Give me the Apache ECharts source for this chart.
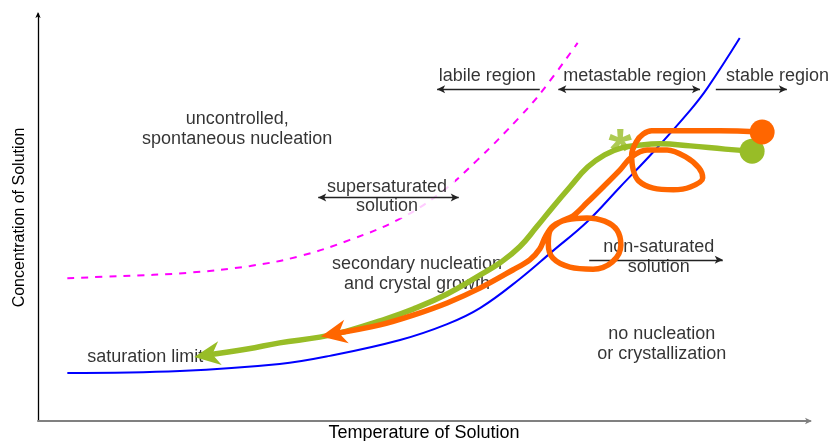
<!DOCTYPE html>
<html>
<head>
<meta charset="utf-8">
<script src="https://cdn.jsdelivr.net/npm/echarts@6/dist/echarts.min.js"></script>
<style>html,body{margin:0;padding:0;background:#fff}#c{width:832px;height:441px}</style>
</head>
<body>
<div id="c"></div>
<script>
// Schematic data (temperature 0-100, concentration 0-100)
const saturationLimit = [[3.8,11.8],[18.4,12.3],[31.3,14.0],[37.8,16.0],[46.9,19.9],[53.0,23.8],[57.3,27.8],[62.4,34.9],[66.7,41.8],[71.1,48.9],[75.4,57.5],[79.7,66.1],[84.5,76.4],[86.7,81.8],[90.9,94.1]];
const supersolubility = [[3.8,35.1],[10.6,35.6],[19.3,36.4],[27.5,38.1],[33.9,40.5],[40.4,44.5],[46.6,49.4],[52.1,56.0],[56.9,64.1],[62.4,74.7],[65.4,81.3],[69.9,92.9]];
const greenPath = [[92.5,66.3],[89.0,66.8],[84.5,67.6],[80.6,68.1],[78.0,67.8],[75.6,67.1],[73.4,65.4],[71.2,62.4],[68.9,57.5],[66.7,52.6],[64.6,47.7],[62.4,42.8],[59.8,38.8],[57.3,35.9],[53.0,31.2],[48.6,27.5],[44.3,24.6],[40.0,22.1],[36.5,20.6],[31.3,19.2],[27.1,17.7],[21.9,16.2]];
const orangePath = [[93.8,71.0],[88.3,71.3],[84.5,71.3],[81.2,71.3],[79.5,71.3],[78.4,70.5],[77.5,68.6],[76.9,65.4],[77.1,61.7],[77.8,59.0],[79.7,57.2],[82.3,56.8],[84.5,57.5],[86.1,59.7],[85.6,62.2],[83.9,64.9],[81.5,66.6],[78.9,66.6],[76.9,64.9],[75.4,61.7],[73.2,57.5],[71.1,53.6],[69.3,50.4],[67.6,48.9],[66.3,46.7],[66.1,43.5],[66.7,40.0],[68.9,37.8],[71.9,37.3],[74.4,39.1],[75.5,43.2],[75.0,46.9],[73.4,49.1],[71.1,49.9],[68.5,49.4],[66.7,47.9],[65.7,45.2],[65.0,42.3],[63.7,39.6],[61.5,37.1],[57.3,32.7],[53.0,29.0],[48.6,26.0],[44.3,23.6],[38.3,21.4]];
const starPoint = [75.4,65.7];
const regionLabels = ['uncontrolled,\nspontaneous nucleation','labile region','metastable region','stable region','supersaturated\nsolution','secondary nucleation\nand crystal growth','non-saturated\nsolution','no nucleation\nor crystallization','saturation limit'];
const labelPoints = [[25.8,71.7],[58.2,84.8],[77.3,84.8],[95.8,84.8],[45.2,55.2],[49.1,36.2],[80.4,40.2],[80.8,19.0],[13.9,15.7]];
const arrowSpans = [[51.7,65.0,81.5],[67.4,85.75,81.5],[87.8,97.0,81.5],[36.3,54.5,54.9],[71.4,88.7,39.6]];
const arrowHeads = [['arrow','none'],['arrow','arrow'],['none','arrow'],['arrow','arrow'],['none','arrow']];

const FONT = "'Liberation Sans', Arial, sans-serif";
const GREEN = '#98bd27', ORANGE = '#ff6600';
const headPath = 'path://M12,0 L24,27 L12,19 L0,27 Z';

function pathData(path, color, rot) {
  const last = path.length - 1;
  return path.map((p, i) => {
    if (i === 0) return {value: p, symbol: 'circle', symbolSize: 25, itemStyle: {color}};
    if (i === last) return {value: p, symbol: headPath, symbolSize: [24, 26], symbolRotate: rot, itemStyle: {color}};
    return {value: p, symbol: 'none'};
  });
}

const chart = echarts.init(document.getElementById('c'), null, {renderer: 'canvas'});
const labelStyle = {show: true, position: 'inside', formatter: '{b}', fontSize: 18, fontFamily: FONT, color: '#000', textBorderWidth: 0, lineHeight: 20, align: 'center', verticalAlign: 'middle'};

chart.setOption({
  animation: false,
  grid: {left: 38, right: 22, top: 14, bottom: 20, containLabel: false, outerBoundsMode: 'none'},
  xAxis: {
    type: 'value', min: 0, max: 100,
    name: 'Temperature of Solution', nameLocation: 'middle', nameGap: 3,
    nameTextStyle: {fontSize: 18, fontFamily: FONT, color: '#000'},
    axisLine: {show: true, onZero: false, symbol: ['none', 'arrow'], symbolSize: [5, 7], symbolOffset: [0, 2], lineStyle: {color: '#808080', width: 2}},
    axisTick: {show: false}, axisLabel: {show: false}, splitLine: {show: false}
  },
  yAxis: {
    type: 'value', min: 0, max: 100,
    name: 'Concentration of Solution', nameLocation: 'middle', nameGap: 10,
    nameTextStyle: {fontSize: 16, fontFamily: FONT, color: '#000'},
    axisLine: {show: true, onZero: false, symbol: ['none', 'arrow'], symbolSize: [4, 6], symbolOffset: [0, 2], lineStyle: {color: '#000', width: 1.3}},
    axisTick: {show: false}, axisLabel: {show: false}, splitLine: {show: false}
  },
  series: [
    {type: 'line', name: 'supersolubility', data: supersolubility, smooth: 0.4, symbol: 'none', z: 1, silent: true,
     lineStyle: {color: '#ff00ff', width: 2, type: [7, 7]}},
    {type: 'line', name: 'saturation', data: saturationLimit, smooth: 0.4, symbol: 'none', z: 2, silent: true,
     lineStyle: {color: '#0000ff', width: 2}},
    {type: 'scatter', name: 'labels', z: 3, silent: true, symbolSize: 0,
     data: regionLabels.map((t, i) => ({name: t, value: labelPoints[i],
       label: i === 4 ? Object.assign({}, labelStyle, {backgroundColor: '#fff', padding: [3, 8], lineHeight: 19}) : labelStyle})),
     label: labelStyle,
     markLine: {silent: true, z: 5, symbolSize: [6, 8], label: {show: false},
       lineStyle: {color: '#222', width: 1.3, type: 'solid'},
       emphasis: {disabled: true},
       data: arrowSpans.map((s, i) => [
         {coord: [s[0], s[2]], symbol: arrowHeads[i][0]},
         {coord: [s[1], s[2]], symbol: arrowHeads[i][1]}
       ])}
    },
    {type: 'line', name: 'path A', data: pathData(greenPath, GREEN, 98.5), smooth: 0.45, symbol: 'none', z: 7, silent: true,
     itemStyle: {color: GREEN}, lineStyle: {color: GREEN, width: 5.5, cap: 'round', join: 'round'}},
    {type: 'line', name: 'path B', data: pathData(orangePath, ORANGE, 101), smooth: 0.35, symbol: 'none', z: 8, silent: true,
     itemStyle: {color: ORANGE}, lineStyle: {color: ORANGE, width: 5.5, cap: 'round', join: 'round'}},
    {type: 'scatter', name: 'star', z: 9, silent: true, symbolSize: 0,
     data: [{name: '*', value: starPoint}],
     label: {show: true, position: 'inside', formatter: '{b}', fontSize: 60, fontWeight: 'bold', fontFamily: FONT, color: GREEN, textBorderWidth: 0, align: 'center', verticalAlign: 'middle'}}
  ]
});
</script>
</body>
</html>
